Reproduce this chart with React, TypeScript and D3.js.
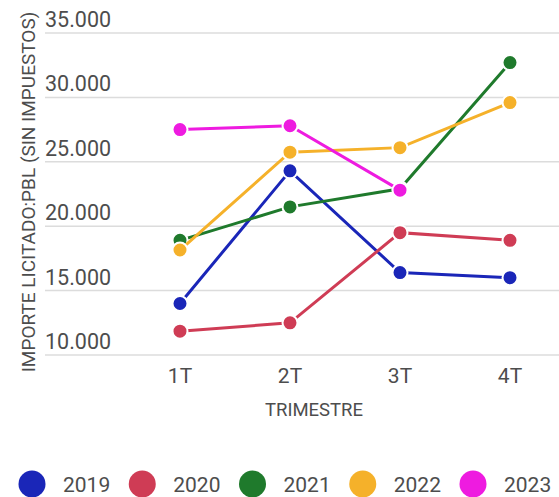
import { useEffect, useRef } from "react";
import * as d3 from "d3";

const quarters = ["1T", "2T", "3T", "4T"];
const years = ["2019", "2020", "2021", "2022", "2023"];
const colors = ["#1a26b8", "#cf3c55", "#1f7a2c", "#f5b12a", "#ee1be0"];

const v2019 = [14000, 24300, 16400, 16000];
const v2020 = [11850, 12500, 19500, 18900];
const v2021 = [18900, 21500, 22900, 32700];
const v2022 = [18150, 25750, 26100, 29600];
const v2023 = [27500, 27800, 22800, null];

const yTicks = [10000, 15000, 20000, 25000, 30000, 35000];

const FONT = "Roboto, 'Noto Sans', sans-serif";
const TEXT = "#4d4d4d";

export default function App() {
  const ref = useRef<SVGSVGElement>(null);

  useEffect(() => {
    const width = 559;
    const height = 497;
    const svg = d3.select(ref.current);
    svg.selectAll("*").remove();
    svg.attr("width", width).attr("height", height).attr("viewBox", `0 0 ${width} ${height}`);

    const series = [v2019, v2020, v2021, v2022, v2023];
    const fmt = d3.formatLocale({ decimal: ",", thousands: ".", grouping: [3], currency: ["", "€"] }).format(",d");

    const x = d3.scalePoint<string>().domain(quarters).range([180, 510]);
    const y = d3.scaleLinear().domain([10000, 35000]).range([355, 33]);

    // grid + y labels
    const grid = svg.append("g");
    grid
      .selectAll("line")
      .data(yTicks)
      .join("line")
      .attr("x1", 45)
      .attr("x2", width)
      .attr("y1", (d) => y(d))
      .attr("y2", (d) => y(d))
      .attr("stroke", "#dcdcdc")
      .attr("stroke-width", 1.5);
    grid
      .selectAll("text")
      .data(yTicks)
      .join("text")
      .attr("x", 45)
      .attr("y", (d) => y(d) - 6)
      .attr("fill", TEXT)
      .style("font-family", FONT)
      .style("font-size", "21.5px")
      .text((d) => fmt(d));

    // x labels
    svg
      .append("g")
      .selectAll("text")
      .data(quarters)
      .join("text")
      .attr("x", (d) => x(d)!)
      .attr("y", 383)
      .attr("text-anchor", "middle")
      .attr("fill", TEXT)
      .style("font-family", FONT)
      .style("font-size", "21px")
      .text((d) => d);

    svg
      .append("text")
      .attr("x", 314)
      .attr("y", 416)
      .attr("text-anchor", "middle")
      .attr("fill", TEXT)
      .style("font-family", FONT)
      .style("font-size", "18.5px")
      .text("TRIMESTRE");

    svg
      .append("text")
      .attr("transform", "translate(35,192) rotate(-90)")
      .attr("text-anchor", "middle")
      .attr("fill", TEXT)
      .style("font-family", FONT)
      .style("font-size", "19px")
      .text("IMPORTE LICITADO:PBL (SIN IMPUESTOS)");

    const line = d3
      .line<number | null>()
      .defined((d) => d != null)
      .x((_, i) => x(quarters[i])!)
      .y((d) => y(d as number));

    const plot = svg.append("g");
    series.forEach((vals, si) => {
      const g = plot.append("g");
      g.append("path")
        .attr("d", line(vals))
        .attr("fill", "none")
        .attr("stroke", colors[si])
        .attr("stroke-width", 3);
      g.selectAll("circle")
        .data(vals.map((v, i) => ({ v, q: quarters[i] })).filter((d) => d.v != null))
        .join("circle")
        .attr("cx", (d) => x(d.q)!)
        .attr("cy", (d) => y(d.v as number))
        .attr("r", 7.5)
        .attr("fill", colors[si])
        .attr("stroke", "#fff")
        .attr("stroke-width", 2);
    });

    // legend
    const lx = d3.scalePoint<string>().domain(years).range([32, 473]);
    const leg = svg
      .append("g")
      .selectAll("g")
      .data(years)
      .join("g")
      .attr("transform", (d) => `translate(${lx(d)},484)`);
    leg
      .append("circle")
      .attr("r", 13.5)
      .attr("fill", (_, i) => colors[i]);
    leg
      .append("text")
      .attr("x", 31)
      .attr("y", 8)
      .attr("fill", TEXT)
      .style("font-family", FONT)
      .style("font-size", "21px")
      .text((d) => d);
  }, []);

  return <svg ref={ref} style={{ position: "absolute", left: 0, top: 0 }} />;
}
